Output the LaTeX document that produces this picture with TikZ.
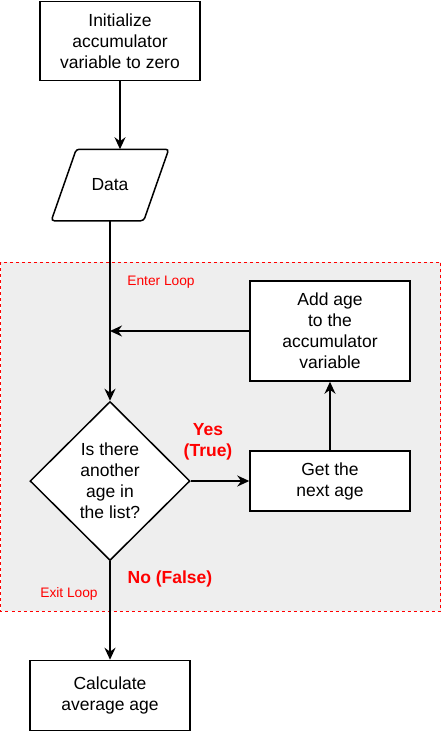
\documentclass[tikz,border=0pt]{standalone}
\usepackage{fontspec}
\setmainfont{Liberation Sans}
\usetikzlibrary{arrows.meta,shapes.geometric,backgrounds}
\definecolor{loopbg}{HTML}{EEEEEE}
\definecolor{loopred}{HTML}{FF0000}

\begin{document}
\begin{tikzpicture}[
    x=1pt, y=-1pt,
    >={Stealth[length=12pt,width=11pt]},
    box/.style={
        draw=black,
        line width=1.5pt,
        fill=white,
        minimum width=160pt,
        inner sep=0pt,
        align=center,
        font=\fontsize{17.5}{21}\selectfont
    },
    note/.style={text=loopred, font=\fontsize{13.75}{16}\selectfont},
    answer/.style={text=loopred, align=center, font=\fontsize{17.5}{21}\selectfont\bfseries},
    arr/.style={->, line width=1.5pt, draw=black}
]
    \useasboundingbox (0,0) rectangle (441,732);

    % loop region
    \draw[draw=loopred, fill=loopbg, line width=0.8pt, dash pattern=on 3pt off 3pt]
        (0.5,262) rectangle (440.5,611);

    \node[box, minimum height=79pt] (init) at (120,41)
        {Initialize\\accumulator\\variable to zero};

    \node[box, draw=none, fill=none, minimum width=116pt, minimum height=70pt] (data) at (110,185) {Data};
    \begin{scope}[on background layer]
        \draw[line width=1.5pt, fill=white, rounded corners=3pt]
            ([xshift=25pt]data.north west) -- (data.north east)
            -- ([xshift=-25pt]data.south east) -- (data.south west) -- cycle;
    \end{scope}

    \node[box, minimum height=100pt] (add) at (330,331)
        {Add age\\to the\\accumulator\\variable};

    \node[box, diamond, minimum width=160pt, minimum height=159pt] (test) at (110,481)
        {Is there\\another\\age in\\the list?};

    \node[box, minimum height=60pt] (next) at (330,481)
        {Get the\\next age};

    \node[box, minimum height=70pt] (calc) at (110,695.5)
        {Calculate\\average age};

    \coordinate (join) at (data.south |- add.west);

    \node[note] (enter) at (161,282) {Enter Loop};
    \node[note] (exit) at (69,594) {Exit Loop};
    \node[answer] (yes) at (208,442) {Yes\\(True)};
    \node[answer] (no) at (170,579) {No (False)};

    \draw[arr] (init.south) -- (init.south |- data.north);
    \draw[arr] (data.south) -- (test.north);
    \draw[arr] (add.west) -- (join);
    \draw[arr] (test.east) -- (next.west);
    \draw[arr] (next.north) -- (add.south);
    \draw[arr] (test.south) -- (calc.north);
\end{tikzpicture}
\end{document}
